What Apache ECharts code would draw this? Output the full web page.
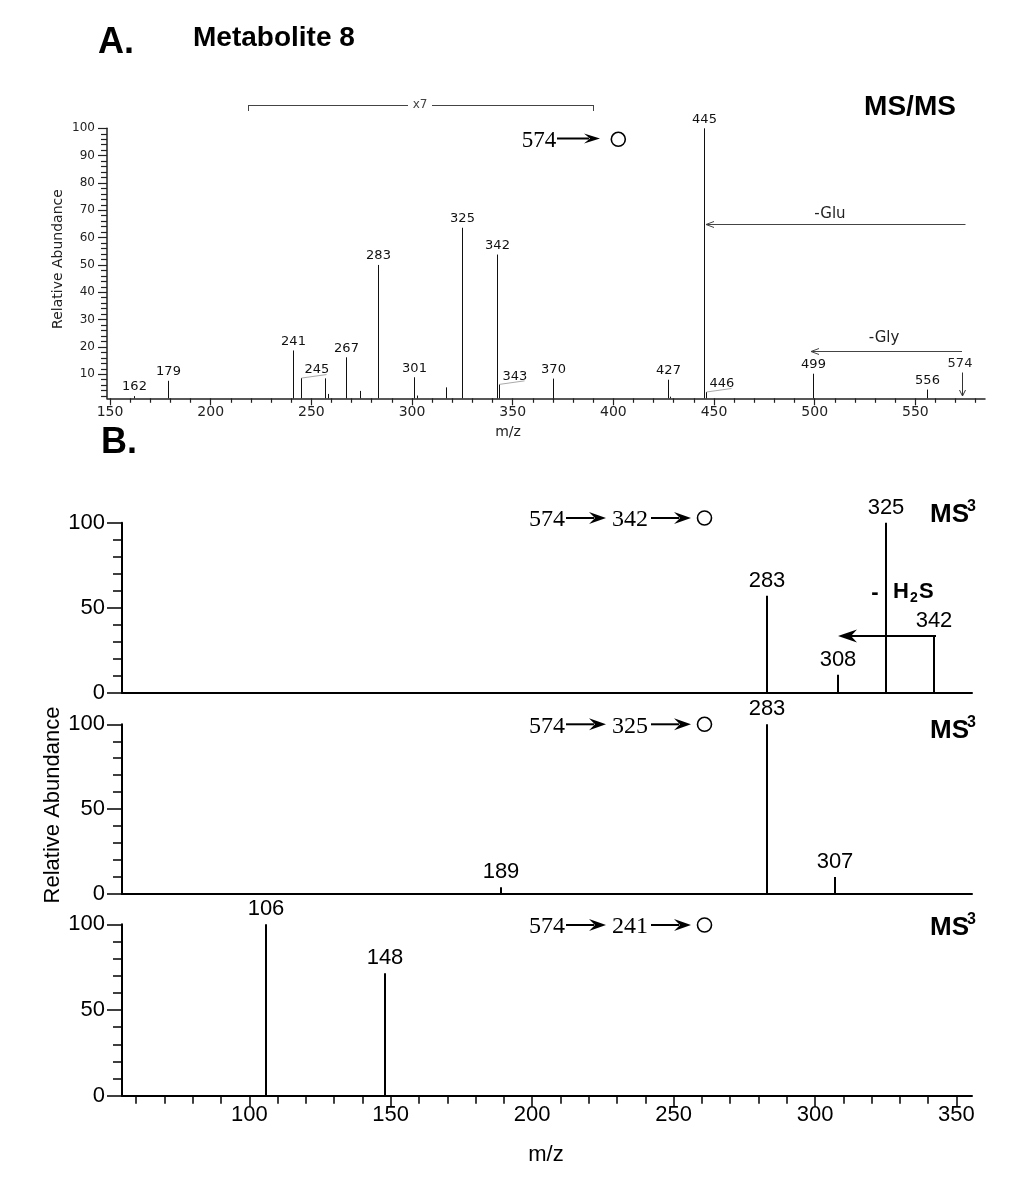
<!DOCTYPE html>
<html><head><meta charset="utf-8">
<script src="https://cdn.jsdelivr.net/npm/echarts@6/dist/echarts.min.js"></script>
<style>html,body{margin:0;padding:0;background:#fff}#c{width:1019px;height:1178px}</style>
</head><body><div id="c"></div>
<script>
// ---------------- data ----------------
// Panel A : MS/MS of m/z 574
const A_MZ     = [162, 179, 241, 245, 257, 258.5, 267, 274, 283, 301, 302.5, 317, 325, 342, 343, 370, 427, 428, 445, 446, 499, 556];
const A_INT    = [2.0, 7.6, 18.7, 8.6, 8.5, 2.8, 16.2, 3.9, 50.0, 8.9, 2.2, 5.2, 63.6, 53.8, 6.3, 8.4, 8.0, 1.8, 100, 3.5, 10.2, 4.4];
const A_LABELS = ['162','179','241','245','','','267','','283','301','','','325','342','343','370','427','','445','446','499','556'];
const A_LEADER = [245, 343, 446];
const A_X_LABELS = [150, 200, 250, 300, 350, 400, 450, 500, 550];
const A_Y_LABELS = [10, 20, 30, 40, 50, 60, 70, 80, 90, 100];

// Panel B : MS3 spectra
const B1_MZ = [283, 308, 325, 342];
const B1_INT = [57, 10.5, 100, 33.5];
const B1_LABELS = ['283', '308', '325', '342'];
const B2_MZ = [189, 283, 307];
const B2_INT = [4, 100, 10];
const B2_LABELS = ['189', '283', '307'];
const B3_MZ = [106, 148];
const B3_INT = [100, 71.5];
const B3_LABELS = ['106', '148'];
const B_X_LABELS = [100, 150, 200, 250, 300, 350];

// ---------------- styles ----------------
const SANS_A = '"DejaVu Sans", Verdana, sans-serif';
const SANS_B = '"Liberation Sans", Arial, sans-serif';
const SERIF = '"Liberation Serif", "Times New Roman", serif';
const INK_A = '#222';

function minorList(from, to, step, skip) {
  const out = [];
  for (let v = from; v <= to + 1e-9; v += step) {
    if (Math.abs(v / skip - Math.round(v / skip)) > 1e-6) out.push(v);
  }
  return out;
}
const A_X_MINOR = minorList(160, 580, 10, 50);
const A_Y_MINOR = minorList(2, 98, 2, 10);
const B_X_MINOR = minorList(60, 340, 10, 50);

function stickSeries(mz, inten, labels, o) {
  return {
    type: 'custom', coordinateSystem: 'cartesian2d',
    xAxisIndex: o.xi, yAxisIndex: o.yi, silent: true, clip: false,
    data: mz.map((m, i) => [m, inten[i]]),
    encode: { x: 0, y: 1 },
    renderItem: function (params, api) {
      const m = api.value(0), v = api.value(1);
      const p0 = api.coord([m, o.base]);
      const p1 = api.coord([m, v]);
      const x = Math.round(p0[0]) + (o.lw % 2 === 1 ? 0.5 : 0);
      const ch = [{ type: 'line', shape: { x1: x, y1: p0[1], x2: x, y2: p1[1] },
        style: { stroke: o.color, lineWidth: o.lw } }];
      const lab = labels[params.dataIndex];
      if (lab) {
        if (o.leader && o.leader.indexOf(m) >= 0) {
          ch.push({ type: 'line', shape: { x1: x, y1: p1[1], x2: x + 25, y2: p1[1] - 3.5 },
            style: { stroke: '#aaa', lineWidth: 1 } });
          ch.push({ type: 'text', x: x + 3, y: p1[1] - 8,
            style: { text: lab, font: o.font, fill: o.color, align: 'left', verticalAlign: 'middle', textAlign: 'left', textVerticalAlign: 'middle' } });
        } else {
          ch.push({ type: 'text', x: x, y: p1[1] - o.gap,
            style: { text: lab, font: o.font, fill: o.color, align: 'center', verticalAlign: 'middle', textAlign: 'center', textVerticalAlign: 'middle' } });
        }
      }
      return { type: 'group', children: ch };
    }
  };
}

// ---------------- axes ----------------
const gridsB = [
  { left: 122, right: 47, top: 522.7, bottom: 485.3 },
  { left: 122, right: 47, top: 724.3, bottom: 284 },
  { left: 122, right: 47, top: 924.3, bottom: 82.3 }
];
const option = {
  animation: false,
  backgroundColor: '#fff',
  grid: [{ left: 107, right: 34, top: 128.3, bottom: 779.7 }].concat(gridsB),
  xAxis: [
    { gridIndex: 0, type: 'value', position: 'bottom', min: 148.5, max: 584.6,
      axisLine: { show: true, lineStyle: { color: INK_A, width: 1.5 } },
      axisTick: { show: true, customValues: A_X_LABELS, length: 7, lineStyle: { color: INK_A, width: 1.2 } },
      axisLabel: { show: true, customValues: A_X_LABELS, fontFamily: SANS_A, fontSize: 14, color: INK_A, margin: 7 },
      splitLine: { show: false } },
    { gridIndex: 0, type: 'value', position: 'bottom', min: 148.5, max: 584.6,
      axisLine: { show: false },
      axisTick: { show: true, customValues: A_X_MINOR, length: 4.5, lineStyle: { color: INK_A, width: 1.2 } },
      axisLabel: { show: false }, splitLine: { show: false } },
    { gridIndex: 1, type: 'value', position: 'bottom', min: 55, max: 355.5,
      axisLine: { show: true, lineStyle: { color: '#000', width: 2 } },
      axisTick: { show: false }, axisLabel: { show: false }, splitLine: { show: false } },
    { gridIndex: 2, type: 'value', position: 'bottom', min: 55, max: 355.5,
      axisLine: { show: true, lineStyle: { color: '#000', width: 2 } },
      axisTick: { show: false }, axisLabel: { show: false }, splitLine: { show: false } },
    { gridIndex: 3, type: 'value', position: 'bottom', min: 55, max: 355.5,
      axisLine: { show: true, lineStyle: { color: '#000', width: 2 } },
      axisTick: { show: true, customValues: B_X_LABELS, length: 11, lineStyle: { color: '#000', width: 1.5 } },
      axisLabel: { show: true, customValues: B_X_LABELS, fontFamily: SANS_B, fontSize: 22, color: '#000', margin: 8 },
      splitLine: { show: false } },
    { gridIndex: 3, type: 'value', position: 'bottom', min: 55, max: 355.5,
      axisLine: { show: false },
      axisTick: { show: true, customValues: B_X_MINOR, length: 8, lineStyle: { color: '#000', width: 1.5 } },
      axisLabel: { show: false }, splitLine: { show: false } }
  ],
  yAxis: [
    { gridIndex: 0, type: 'value', position: 'left', min: 1.2, max: 100,
      axisLine: { show: true, lineStyle: { color: INK_A, width: 1.5 } },
      axisTick: { show: true, customValues: A_Y_LABELS, length: 9, lineStyle: { color: INK_A, width: 1.2 } },
      axisLabel: { show: true, customValues: A_Y_LABELS, fontFamily: SANS_A, fontSize: 12, color: INK_A, margin: 12 },
      splitLine: { show: false } },
    { gridIndex: 0, type: 'value', position: 'left', min: 1.2, max: 100,
      axisLine: { show: false },
      axisTick: { show: true, customValues: A_Y_MINOR, length: 6, lineStyle: { color: INK_A, width: 1.2 } },
      axisLabel: { show: false }, splitLine: { show: false } }
  ].concat([1, 2, 3].map(g => ({
      gridIndex: g, type: 'value', position: 'left', min: 0, max: 100, interval: 50,
      axisLine: { show: true, lineStyle: { color: '#000', width: 2 } },
      axisTick: { show: true, length: 15, lineStyle: { color: '#000', width: 1.5 } },
      minorTick: { show: true, splitNumber: 5, length: 9, lineStyle: { color: '#000', width: 1.5 } },
      axisLabel: { show: true, fontFamily: SANS_B, fontSize: 22, color: '#000', margin: 17 },
      splitLine: { show: false }, minorSplitLine: { show: false }
  }))),
  series: [
    stickSeries(A_MZ, A_INT, A_LABELS, { xi: 0, yi: 0, base: 1.2, lw: 1, color: '#111', font: '13px ' + SANS_A, gap: 9, leader: A_LEADER }),
    stickSeries(B1_MZ, B1_INT, B1_LABELS, { xi: 2, yi: 2, base: 0, lw: 2, color: '#000', font: '22px ' + SANS_B, gap: 15 }),
    stickSeries(B2_MZ, B2_INT, B2_LABELS, { xi: 3, yi: 3, base: 0, lw: 2, color: '#000', font: '22px ' + SANS_B, gap: 15 }),
    stickSeries(B3_MZ, B3_INT, B3_LABELS, { xi: 4, yi: 4, base: 0, lw: 2, color: '#000', font: '22px ' + SANS_B, gap: 15 })
  ]
};

// ---------------- annotations ----------------
function txt(text, x, y, font, align, fill, rot) {
  const e = { type: 'text', x: x, y: y, silent: true,
    style: { text: text, font: font, fill: fill || '#000', align: align || 'center', verticalAlign: 'middle',
             textAlign: align || 'center', textVerticalAlign: 'middle' } };
  if (rot) e.rotation = rot;
  return e;
}
function seg(x1, y1, x2, y2, w, c) {
  return { type: 'line', silent: true, shape: { x1: x1, y1: y1, x2: x2, y2: y2 }, style: { stroke: c || '#000', lineWidth: w || 1 } };
}
function bigArrow(x1, x2, y, len, half) { // filled barbed arrow pointing right
  len = len || 17; half = half || 6;
  return [seg(x1, y, x2 - len + 5, y, 2),
    { type: 'polygon', silent: true, shape: { points: [[x2, y], [x2 - len, y - half], [x2 - len + 6, y], [x2 - len, y + half]] }, style: { fill: '#000' } }];
}
function circ(cx, cy) {
  return { type: 'circle', silent: true, shape: { cx: cx, cy: cy, r: 7 }, style: { fill: 'none', stroke: '#000', lineWidth: 1.6 } };
}
function chain(y, mid) {
  return [txt('574', 547, y + 2, '24px ' + SERIF)].concat(bigArrow(566, 606, y))
    .concat([txt(mid, 630, y + 2, '24px ' + SERIF)])
    .concat(bigArrow(651, 691, y)).concat([circ(704.5, y)]);
}
function ms3(y) {
  return [txt('MS', 930, y, 'bold 26px ' + SANS_B, 'left'), txt('3', 967, y - 8, 'bold 16px ' + SANS_B, 'left')];
}
let G = [];
// titles
G.push(txt('A.', 98, 43, 'bold 36px ' + SANS_B, 'left'));
G.push(txt('Metabolite 8', 193, 38, 'bold 28px ' + SANS_B, 'left'));
G.push(txt('B.', 101, 443, 'bold 36px ' + SANS_B, 'left'));
// panel A
G.push(txt('Relative Abundance', 58.5, 259, '14px ' + SANS_A, 'center', INK_A, Math.PI / 2));
G.push(txt('m/z', 508, 432, '14px ' + SANS_A, 'center', INK_A));
G.push(seg(248.5, 105.5, 408, 105.5, 1, '#444'), seg(432, 105.5, 593.5, 105.5, 1, '#444'),
       seg(248.5, 105, 248.5, 111, 1, '#444'), seg(593.5, 105, 593.5, 111, 1, '#444'));
G.push(txt('x7', 420, 105, '12px ' + SANS_A, 'center', '#444'));
G.push(txt('MS/MS', 910, 107, 'bold 28px ' + SANS_B));
G.push(txt('574', 539, 141, '23px ' + SERIF));
G = G.concat(bigArrow(557, 600, 138.5, 16, 5), [circ(618.3, 139.3)]);
// -Glu
G.push(seg(965.5, 224.5, 706, 224.5, 1, '#444'), seg(706, 224.5, 714, 221.5, 1, '#444'), seg(706, 224.5, 714, 227.5, 1, '#444'));
G.push(txt('-Glu', 830, 214, '15px ' + SANS_A, 'center', INK_A));
// -Gly
G.push(seg(962, 351.5, 811, 351.5, 1, '#444'), seg(811, 351.5, 819, 348.5, 1, '#444'), seg(811, 351.5, 819, 354.5, 1, '#444'));
G.push(txt('-Gly', 884, 338, '15px ' + SANS_A, 'center', INK_A));
// 574 precursor marker
G.push(txt('574', 960, 364, '13px ' + SANS_A, 'center', INK_A));
G.push(seg(962.5, 372.5, 962.5, 396, 1, '#333'), seg(962.5, 396, 959.5, 390, 1, '#333'), seg(962.5, 396, 965.5, 390, 1, '#333'));
// panel B
G.push(txt('Relative Abundance', 53, 805, '22px ' + SANS_B, 'center', '#000', Math.PI / 2));
G.push(txt('m/z', 546, 1155, '22px ' + SANS_B));
G = G.concat(chain(518, '342'), chain(724.3, '325'), chain(925, '241'));
G = G.concat(ms3(515), ms3(731), ms3(928));
// - H2S loss arrow
G.push(seg(936, 636, 848, 636, 2),
  { type: 'polygon', silent: true, shape: { points: [[838, 636], [857, 629.5], [851, 636], [857, 642.5]] }, style: { fill: '#000' } });
G.push(txt('-', 875, 593, 'bold 22px ' + SANS_B));
G.push(txt('H', 893, 592, 'bold 22px ' + SANS_B, 'left'));
G.push(txt('2', 910, 598, 'bold 14px ' + SANS_B, 'left'));
G.push(txt('S', 919, 592, 'bold 22px ' + SANS_B, 'left'));
option.graphic = { elements: G };

const chart = echarts.init(document.getElementById('c'));
chart.setOption(option);
</script>
</body></html>
